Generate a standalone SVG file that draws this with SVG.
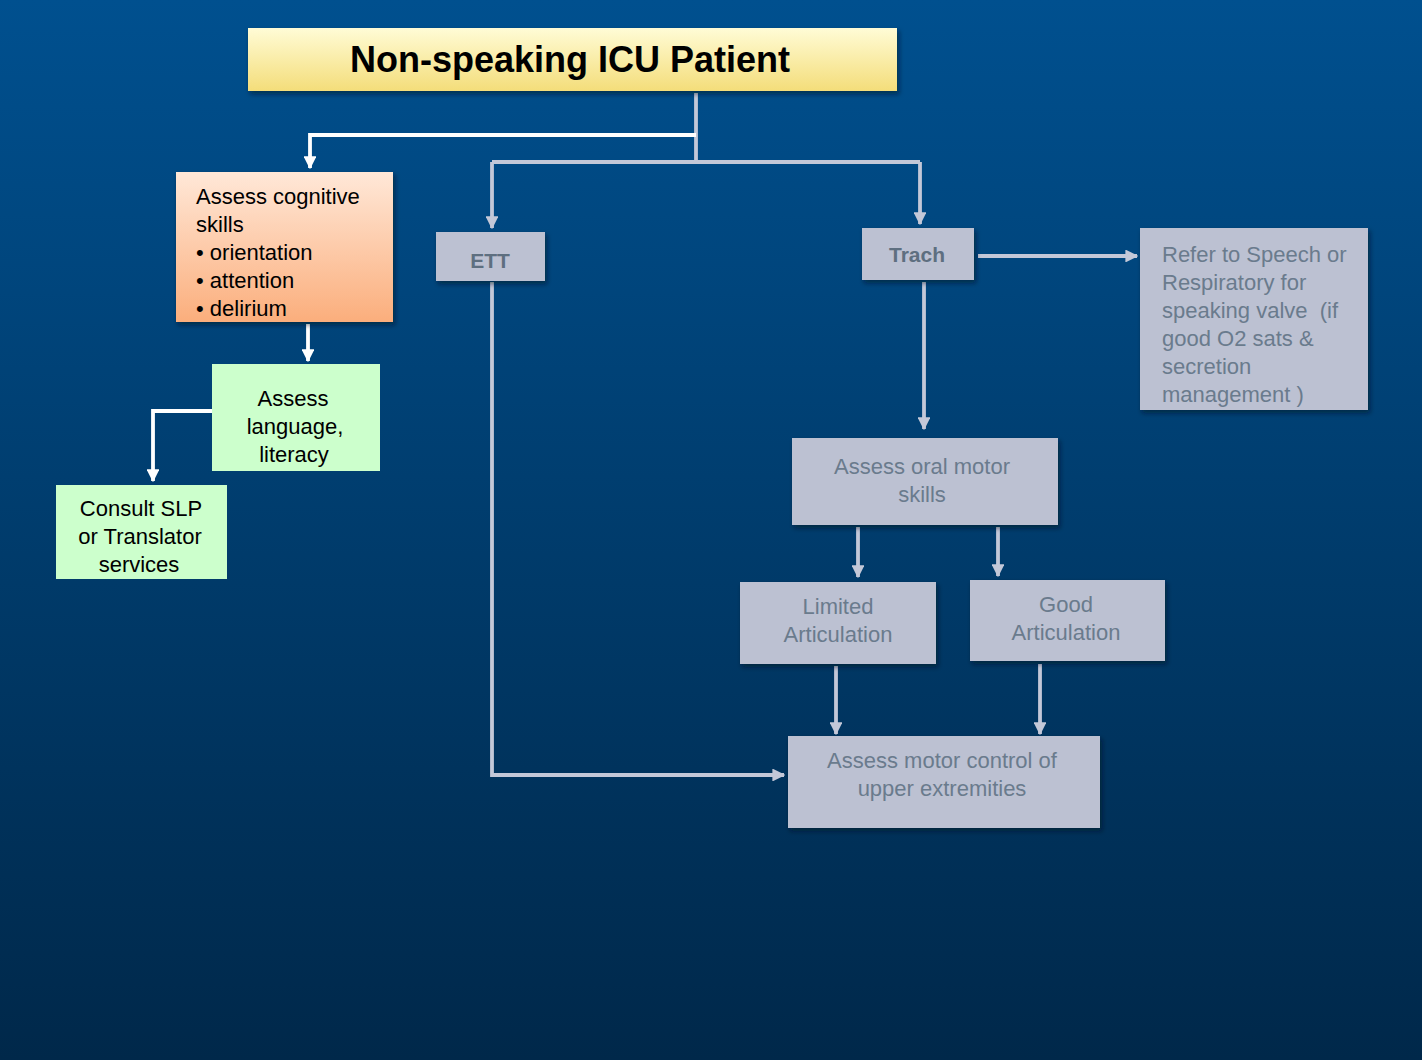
<svg xmlns="http://www.w3.org/2000/svg" width="1422" height="1060" viewBox="0 0 1422 1060">
<defs>
<linearGradient id="bg" x1="0" y1="0" x2="0" y2="1">
<stop offset="0" stop-color="#00508f"/>
<stop offset="1" stop-color="#00284a"/>
</linearGradient>
<linearGradient id="gy" x1="0" y1="0" x2="0" y2="1">
<stop offset="0" stop-color="#fffcd6"/>
<stop offset="1" stop-color="#f4dd7a"/>
</linearGradient>
<linearGradient id="gp" x1="0" y1="0" x2="0" y2="1">
<stop offset="0" stop-color="#ffe8d8"/>
<stop offset="1" stop-color="#fbae7c"/>
</linearGradient>
<filter id="sh" x="-10%" y="-10%" width="125%" height="130%">
<feDropShadow dx="2" dy="3" stdDeviation="2.5" flood-color="#001020" flood-opacity="0.55"/>
</filter>
<marker id="aw" viewBox="0 0 10 10" refX="9" refY="5" markerWidth="3.4" markerHeight="3.4" orient="auto" markerUnits="strokeWidth">
<path d="M0,0 L10,5 L0,10 Z" fill="#ffffff"/>
</marker>
<marker id="ag" viewBox="0 0 10 10" refX="9" refY="5" markerWidth="3.4" markerHeight="3.4" orient="auto" markerUnits="strokeWidth">
<path d="M0,0 L10,5 L0,10 Z" fill="#c3c8d8"/>
</marker>
</defs>
<style>
.t{font-family:"Liberation Sans",Arial,sans-serif;font-size:22px;fill:#000}
.g{font-family:"Liberation Sans",Arial,sans-serif;font-size:22px;fill:#6a7b8d}
.gb{font-family:"Liberation Sans",Arial,sans-serif;font-size:21px;font-weight:bold;fill:#5e6f80}
.c{text-anchor:middle}
.box{fill:#bcc1d2}
.grn{fill:#ccffcc}
.lw{fill:none;stroke:#ffffff;stroke-width:3.8}
.lg{fill:none;stroke:#c3c8d8;stroke-width:3.8}
</style>
<rect x="0" y="0" width="1422" height="1060" fill="url(#bg)"/>

<g id="connectors">
<path class="lg" d="M696,93 V162"/>
<path class="lw" d="M696,135 H310 V168" marker-end="url(#aw)"/>
<path class="lg" d="M492,162 H920"/>
<path class="lg" d="M492,162 V228" marker-end="url(#ag)"/>
<path class="lg" d="M920,162 V224" marker-end="url(#ag)"/>
<path class="lg" d="M978,256 H1137" marker-end="url(#ag)"/>
<path class="lg" d="M924,282 V429" marker-end="url(#ag)"/>
<path class="lw" d="M308,324 V361" marker-end="url(#aw)"/>
<path class="lw" d="M214,411 H153 V481" marker-end="url(#aw)"/>
<path class="lg" d="M492,282 V775 H784" marker-end="url(#ag)"/>
<path class="lg" d="M858,527 V577" marker-end="url(#ag)"/>
<path class="lg" d="M998,527 V576" marker-end="url(#ag)"/>
<path class="lg" d="M836,666 V734" marker-end="url(#ag)"/>
<path class="lg" d="M1040,664 V734" marker-end="url(#ag)"/>
</g>

<g id="n-title">
<rect x="248" y="28" width="649" height="63" fill="url(#gy)" filter="url(#sh)"/>
<text x="570" y="72" class="c" font-family="Liberation Sans, Arial, sans-serif" font-size="36" font-weight="bold" fill="#000">Non-speaking ICU Patient</text>
</g>

<g id="n-cognitive">
<rect x="176" y="172" width="217" height="150" fill="url(#gp)" filter="url(#sh)"/>
<text class="t"><tspan x="196" y="204">Assess cognitive</tspan><tspan x="196" y="232">skills</tspan><tspan x="196" y="260">• orientation</tspan><tspan x="196" y="288">• attention</tspan><tspan x="196" y="316">• delirium</tspan></text>
</g>

<g id="n-language">
<rect class="grn" x="212" y="364" width="168" height="107"/>
<text class="t c"><tspan x="293" y="406">Assess</tspan><tspan x="295" y="434">language,</tspan><tspan x="294" y="462">literacy</tspan></text>
</g>

<g id="n-consult">
<rect class="grn" x="56" y="485" width="171" height="94"/>
<text class="t c"><tspan x="141" y="516">Consult SLP</tspan><tspan x="140" y="544">or Translator</tspan><tspan x="139" y="572">services</tspan></text>
</g>

<g id="n-ett">
<rect class="box" x="436" y="232" width="109" height="49" filter="url(#sh)"/>
<text class="gb c" x="490" y="268">ETT</text>
</g>

<g id="n-trach">
<rect class="box" x="862" y="228" width="112" height="52" filter="url(#sh)"/>
<text class="gb c" x="917" y="262">Trach</text>
</g>

<g id="n-refer">
<rect class="box" x="1140" y="228" width="228" height="182" filter="url(#sh)"/>
<text class="g"><tspan x="1162" y="262">Refer to Speech or</tspan><tspan x="1162" y="290">Respiratory for</tspan><tspan x="1162" y="318">speaking valve&#160; (if</tspan><tspan x="1162" y="346">good O2 sats &amp;</tspan><tspan x="1162" y="374">secretion</tspan><tspan x="1162" y="402">management )</tspan></text>
</g>

<g id="n-oral">
<rect class="box" x="792" y="438" width="266" height="87" filter="url(#sh)"/>
<text class="g c"><tspan x="922" y="474">Assess oral motor</tspan><tspan x="922" y="502">skills</tspan></text>
</g>

<g id="n-limited">
<rect class="box" x="740" y="582" width="196" height="82" filter="url(#sh)"/>
<text class="g c"><tspan x="838" y="614">Limited</tspan><tspan x="838" y="642">Articulation</tspan></text>
</g>

<g id="n-good">
<rect class="box" x="970" y="580" width="195" height="81" filter="url(#sh)"/>
<text class="g c"><tspan x="1066" y="612">Good</tspan><tspan x="1066" y="640">Articulation</tspan></text>
</g>

<g id="n-motor">
<rect class="box" x="788" y="736" width="312" height="92" filter="url(#sh)"/>
<text class="g c"><tspan x="942" y="768">Assess motor control of</tspan><tspan x="942" y="796">upper extremities</tspan></text>
</g>
</svg>
